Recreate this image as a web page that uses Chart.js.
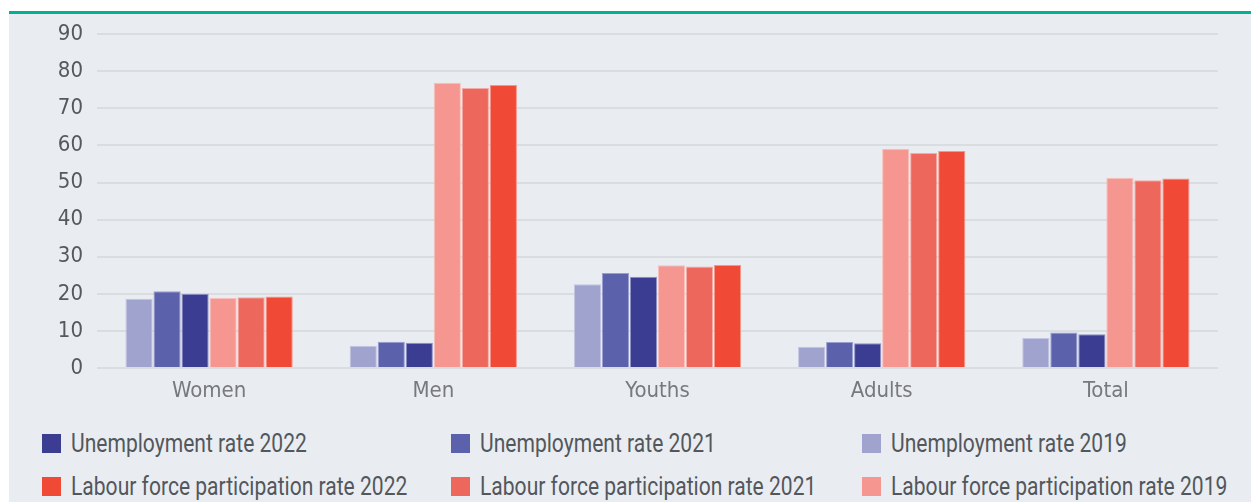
<!DOCTYPE html>
<html>
<head>
<meta charset="utf-8">
<script src="https://cdn.jsdelivr.net/npm/chart.js@4/dist/chart.umd.min.js"></script>
<style>
    body {
        margin: 0;
        background: #ffffff;
        width: 1251px;
        height: 502px;
        overflow: hidden;
        font-family: "Roboto", sans-serif;
    }
    #panel {
        position: absolute;
        left: 9px;
        top: 11px;
        right: 0;
        bottom: 0;
        background: #e9edf1;
        border-top: 3px solid #00b294;
    }
    #myChart {
        position: absolute;
        left: 9px;
        top: 7px;
    }
    .legend-item {
        position: absolute;
        height: 19px;
        line-height: 19px;
        font-size: 26px;
        color: #53575c;
        white-space: nowrap;
    }
    .legend-item .box {
        display: inline-block;
        width: 19px;
        height: 19px;
        vertical-align: top;
        margin-right: 10px;
    }
    .legend-item .text {
        display: inline-block;
        vertical-align: top;
        transform: scaleX(0.81);
        transform-origin: left center;
    }
</style>
</head>
<body>
<div id="panel"></div>
<canvas id="myChart" width="1242" height="401"></canvas>
<div id="legend"></div>
<script>
const categories = ['Women', 'Men', 'Youths', 'Adults', 'Total']

const unemployment2019 = [18.7, 6.0, 22.6, 5.7, 8.1]
const unemployment2021 = [20.7, 7.1, 25.6, 7.0, 9.6]
const unemployment2022 = [20.0, 6.8, 24.6, 6.7, 9.1]
const participation2019 = [18.9, 76.9, 27.7, 59.1, 51.3]
const participation2021 = [19.1, 75.5, 27.4, 58.0, 50.6]
const participation2022 = [19.3, 76.3, 27.8, 58.5, 51.1]

const yTicks = [0, 10, 20, 30, 40, 50, 60, 70, 80, 90]

const labelFont = '"DejaVu Sans Condensed", "Roboto", sans-serif'

function makeSet(label, values, color, border) {
    return {
        label: label,
        data: values,
        backgroundColor: color,
        borderColor: border,
        borderWidth: 1,
        categoryPercentage: 0.75,
        barPercentage: 0.97
    }
}

const data = {
    labels: categories,
    datasets: [
        makeSet('Unemployment rate 2019', unemployment2019, '#a1a3cf', '#c3c5e2'),
        makeSet('Unemployment rate 2021', unemployment2021, '#5b62ab', '#9a9fd0'),
        makeSet('Unemployment rate 2022', unemployment2022, '#3a3d91', '#8e92c6'),
        makeSet('Labour force participation rate 2019', participation2019, '#f59790', '#f8c0bc'),
        makeSet('Labour force participation rate 2021', participation2021, '#ee675c', '#f4aba5'),
        makeSet('Labour force participation rate 2022', participation2022, '#f04a37', '#f5968b')
    ]
}

const config = {
    type: 'bar',
    data: data,
    options: {
        responsive: false,
        animation: false,
        layout: {
            padding: { top: 0, right: 33, bottom: 0, left: 0 }
        },
        plugins: {
            legend: { display: false },
            tooltip: { enabled: false }
        },
        scales: {
            x: {
                grid: { display: false, drawTicks: false },
                border: { display: false },
                ticks: {
                    padding: 10,
                    color: '#77797c',
                    font: { family: labelFont, size: 22 }
                },
                afterFit: function (scale) { scale.height = 40 }
            },
            y: {
                min: 0,
                max: 90,
                afterBuildTicks: function (scale) {
                    scale.ticks = yTicks.map(function (v) { return { value: v } })
                },
                grid: { color: '#dadde0', lineWidth: 2, drawTicks: false },
                border: { display: false },
                ticks: {
                    padding: 14,
                    color: '#55585c',
                    font: { family: labelFont, size: 22 }
                },
                afterFit: function (scale) { scale.width = 88 }
            }
        }
    }
}

const myChart = new Chart(document.getElementById('myChart'), config)

// legend laid out in three columns, newest year first
const legendOrder = [2, 1, 0, 5, 4, 3]
const columnsX = [42, 451, 862]
const rowsY = [434, 477]

legendOrder.forEach(function (idx, i) {
    var ds = data.datasets[idx]
    var item = document.createElement('div')
    item.className = 'legend-item'
    item.style.left = columnsX[i % 3] + 'px'
    item.style.top = rowsY[Math.floor(i / 3)] + 'px'
    var box = document.createElement('span')
    box.className = 'box'
    box.style.backgroundColor = ds.backgroundColor
    var text = document.createElement('span')
    text.className = 'text'
    text.textContent = ds.label
    item.appendChild(box)
    item.appendChild(text)
    document.getElementById('legend').appendChild(item)
})
</script>
</body>
</html>
